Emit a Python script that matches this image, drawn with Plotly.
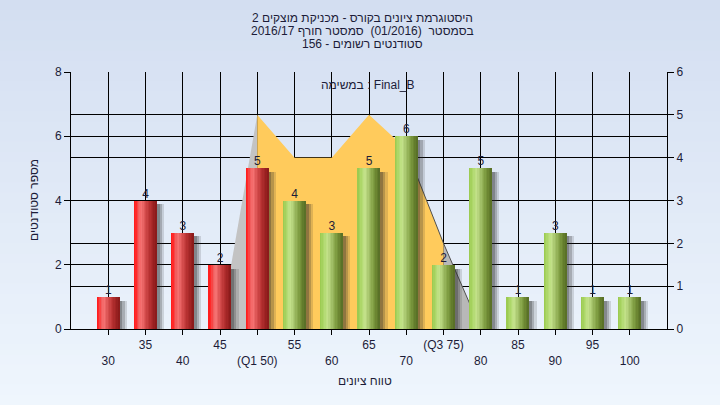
import plotly.graph_objects as go

# ---------------- data ----------------
categories = [30, 35, 40, 45, 50, 55, 60, 65, 70, 75, 80, 85, 90, 95, 100]
counts = [1, 4, 3, 2, 5, 4, 3, 5, 6, 2, 5, 1, 3, 1, 1]
tick_labels = ["30", "35", "40", "45", "(Q1 50)", "55", "60", "65", "70", "(Q3 75)",
               "80", "85", "90", "95", "100"]
curve_x = [45, 50, 55, 60, 65, 70, 75, 80]
curve_y = [0, 5, 4, 4, 5, 4.2, 2, 0]
q1 = 50
q3 = 75
pass_mark = 55

title_lines = ["היסטוגרמת ציונים בקורס - מכניקת מוצקים 2",
               "בסמסטר  (01/2016)  סמסטר חורף 2016/17",
               "סטודנטים רשומים - 156"]
task_label = "במשימה : Final_B"
x_title = "טווח ציונים"
y_title = "מספר סטודנטים"

# ---------------- layout geometry ----------------
W, H = 720, 405
L, R, T, B = 71, 53, 72, 76
PW, PH = W - L - R, H - T - B
FONT = "Liberation Sans, Arial, DejaVu Sans, sans-serif"
TXT = "#1c1c38"


def px_x(x):
    return (x - L) / PW


def px_y(y):
    return 1 - (y - T) / PH


def hex2rgb(h):
    h = h.lstrip("#")
    return [int(h[i:i + 2], 16) for i in (0, 2, 4)]


def interp(stops, t):
    for (t0, c0), (t1, c1) in zip(stops, stops[1:]):
        if t0 <= t <= t1:
            f = 0 if t1 == t0 else (t - t0) / (t1 - t0)
            a, b = hex2rgb(c0), hex2rgb(c1)
            return "rgb(%d,%d,%d)" % tuple(round(a[i] + (b[i] - a[i]) * f) for i in range(3))
    return stops[-1][1]


red_stops = [(0, "#ff1818"), (0.1, "#ff2a2a"), (0.2, "#f05a5a"), (0.33, "#f77474"),
             (0.5, "#d85050"), (0.7, "#b83232"), (0.88, "#9c2222"), (1, "#861818")]
green_stops = [(0, "#98c84c"), (0.12, "#a8d462"), (0.33, "#c4e38c"), (0.5, "#a6c46c"),
               (0.7, "#82a044"), (0.88, "#66802e"), (1, "#566c26")]

fig = go.Figure()

# ---------- curve / area (primary y = right axis 0..6) ----------
left_x = [x for x in curve_x if x <= q1]
left_y = [y for x, y in zip(curve_x, curve_y) if x <= q1]
mid_x = [x for x in curve_x if q1 <= x <= q3]
mid_y = [y for x, y in zip(curve_x, curve_y) if q1 <= x <= q3]
right_x = [x for x in curve_x if x >= q3]
right_y = [y for x, y in zip(curve_x, curve_y) if x >= q3]

fig.add_trace(go.Scatter(x=left_x, y=left_y, mode="lines", fill="tozeroy",
                         fillcolor="#c3c3c3", line=dict(width=0, color="#c3c3c3"),
                         yaxis="y", hoverinfo="skip", showlegend=False))
fig.add_trace(go.Scatter(x=right_x, y=right_y, mode="lines", fill="tozeroy",
                         fillcolor="#b8b8b8", line=dict(width=0, color="#b8b8b8"),
                         yaxis="y", hoverinfo="skip", showlegend=False))
fig.add_trace(go.Scatter(x=mid_x, y=mid_y, mode="lines", fill="tozeroy",
                         fillcolor="#ffcb5c", line=dict(width=0, color="#ffcb5c"),
                         yaxis="y", hoverinfo="skip", showlegend=False))
edge_x = [x for x in curve_x if x >= 70]
edge_y = [y for x, y in zip(curve_x, curve_y) if x >= 70]
fig.add_trace(go.Scatter(x=edge_x, y=edge_y, mode="lines",
                         line=dict(width=1, color="#505050"),
                         yaxis="y", hoverinfo="skip", showlegend=False))

# ---------- bars (overlay y2 = left axis 0..8) ----------
BW = 3.0
for off, alpha in [(1.0, 0.15), (0.7, 0.22), (0.4, 0.28)]:
    fig.add_trace(go.Bar(x=categories, y=[c - 0.12 for c in counts], width=BW,
                         offset=-BW / 2 + off,
                         marker=dict(color="rgba(40,40,40,%.2f)" % alpha, line=dict(width=0)),
                         yaxis="y2", hoverinfo="skip", showlegend=False))

N = 16
for i in range(N):
    t = (i + 0.5) / N
    cols = [interp(red_stops, t) if c < pass_mark else interp(green_stops, t) for c in categories]
    fig.add_trace(go.Bar(x=categories, y=counts, width=BW / N + 0.02,
                         offset=-BW / 2 + i * BW / N,
                         marker=dict(color=cols, line=dict(width=0)),
                         yaxis="y2", hoverinfo="skip", showlegend=False))

fig.add_trace(go.Scatter(x=categories, y=counts, mode="text", text=[str(c) for c in counts],
                         textposition="top center",
                         textfont=dict(family=FONT, size=12, color=TXT),
                         yaxis="y2", hoverinfo="skip", showlegend=False))

# ---------- background bands ----------
shapes = []
nb = 40
top, bot = 1 + T / PH, -B / PH
for i in range(nb):
    y0 = top - (top - bot) * i / nb
    y1 = top - (top - bot) * (i + 1) / nb
    shapes.append(dict(type="rect", xref="paper", yref="paper",
                       x0=-L / PW - 0.01, x1=1 + R / PW + 0.01, y0=y1 - 0.005, y1=y0,
                       fillcolor=interp([(0, "#d3def1"), (1, "#eff6fd")], (i + 0.5) / nb),
                       line=dict(width=0), layer="below"))

# ---------- annotations ----------
ann = []
for line, yy in zip(title_lines, [18, 31, 44]):
    ann.append(dict(text=line, x=px_x(362), y=px_y(yy), xref="paper", yref="paper",
                    showarrow=False, xanchor="center", yanchor="middle",
                    font=dict(family=FONT, size=12, color=TXT)))
ann.append(dict(text=task_label, x=px_x(368), y=px_y(85), xref="paper", yref="paper",
                showarrow=False, xanchor="center", yanchor="middle",
                font=dict(family=FONT, size=12, color=TXT)))
ann.append(dict(text=x_title, x=px_x(365), y=px_y(381), xref="paper", yref="paper",
                showarrow=False, xanchor="center", yanchor="middle",
                font=dict(family=FONT, size=12, color=TXT)))
ann.append(dict(text=y_title, x=px_x(34), y=px_y(200), xref="paper", yref="paper",
                showarrow=False, xanchor="center", yanchor="middle", textangle=-90,
                font=dict(family=FONT, size=12, color=TXT)))

ticktext = [("<br>" + t) if i % 2 == 0 else t for i, t in enumerate(tick_labels)]

fig.update_layout(
    width=W, height=H,
    margin=dict(l=L, r=R, t=T, b=B, pad=0),
    paper_bgcolor="#e2eaf7",
    plot_bgcolor="#b3b3b3",
    barmode="overlay",
    bargap=0,
    showlegend=False,
    font=dict(family=FONT, size=12, color=TXT),
    shapes=shapes,
    annotations=ann,
    xaxis=dict(range=[25, 105], tickmode="array", tickvals=categories, ticktext=ticktext,
               showgrid=True, gridcolor="#000000", gridwidth=1,
               showline=True, linecolor="#000000", linewidth=1,
               ticks="outside", ticklen=5, tickcolor="#000000",
               tickfont=dict(family=FONT, size=12, color=TXT), zeroline=False,
               fixedrange=True),
    yaxis=dict(range=[0, 6], side="right", tickvals=[0, 1, 2, 3, 4, 5, 6],
               showgrid=True, gridcolor="#000000", gridwidth=1,
               showline=True, linecolor="#000000", linewidth=1,
               ticks="outside", ticklen=6, tickcolor="#000000",
               tickfont=dict(family=FONT, size=12, color=TXT), zeroline=False),
    yaxis2=dict(range=[0, 8], side="left", overlaying="y", anchor="x",
                tickvals=[0, 2, 4, 6, 8],
                showgrid=True, gridcolor="#000000", gridwidth=1,
                showline=True, linecolor="#000000", linewidth=1,
                ticks="outside", ticklen=6, tickcolor="#000000",
                tickfont=dict(family=FONT, size=12, color=TXT), zeroline=False),
)

fig.write_html("out.html", config={"displayModeBar": False},
               post_script="document.body.style.margin='0px';")
